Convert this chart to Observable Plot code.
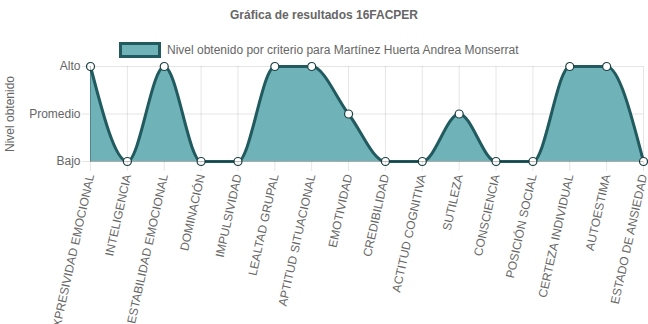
<!DOCTYPE html>
<html><head><meta charset="utf-8">
<script src="https://cdn.jsdelivr.net/npm/d3@7"></script>
<script src="https://cdn.jsdelivr.net/npm/@observablehq/plot@0.6"></script>
<style>
body{margin:0;background:#fff;font-family:"Liberation Sans",Arial,sans-serif;}
#wrap{position:relative;width:648px;height:324px;overflow:hidden;}
#title{position:absolute;left:0;width:648px;top:8px;text-align:center;font-weight:bold;font-size:12px;color:#666;}
#legend{position:absolute;left:119px;top:42px;height:15px;display:flex;align-items:center;font-size:12px;color:#666;}
#legend .box{width:36px;height:10px;background:#6fb3b8;border:3px solid #215a5f;margin-right:6px;}
#chart{position:absolute;left:0;top:58px;}
</style></head>
<body><div id="wrap">
<div id="title">Gráfica de resultados 16FACPER</div>
<div id="legend"><div class="box"></div><span>Nivel obtenido por criterio para Martínez Huerta Andrea Monserrat</span></div>
<div id="chart"></div>
</div>
<script>
const categories = ["EXPRESIVIDAD EMOCIONAL","INTELIGENCIA","ESTABILIDAD EMOCIONAL","DOMINACIÓN","IMPULSIVIDAD","LEALTAD GRUPAL","APTITUD SITUACIONAL","EMOTIVIDAD","CREDIBILIDAD","ACTITUD COGNITIVA","SUTILEZA","CONSCIENCIA","POSICIÓN SOCIAL","CERTEZA INDIVIDUAL","AUTOESTIMA","ESTADO DE ANSIEDAD"];
const values = [3,1,3,1,1,3,3,2,1,1,2,1,1,3,3,1];
const levelTicks = [1,2,3];
const levelLabels = ["Bajo","Promedio","Alto"];
const data = categories.map((c,i)=>({c, v: values[i]}));

const chart = Plot.plot({
  width: 648, height: 266,
  marginLeft: 90, marginRight: 5, marginTop: 8, marginBottom: 163,
  style: {fontFamily: '"Liberation Sans",Arial,sans-serif', fontSize: "12px", color: "#666", overflow: "visible"},
  x: {type: "point", domain: categories, padding: 0, round: false, label: null},
  y: {domain: [1,3], label: null},
  marks: [
    Plot.gridX(categories, {stroke: "#000", strokeOpacity: 0.1, y1: 1, y2: 3}),
    Plot.gridY(levelTicks, {stroke: "#000", strokeOpacity: 0.1}),
    Plot.areaY(data, {x: "c", y1: 1, y2: "v", curve: "monotone-x", fill: "#6fb3b8"}),
    Plot.lineY(data, {x: "c", y: "v", curve: "monotone-x", stroke: "#215a5f", strokeWidth: 3}),
    Plot.dot(data, {x: "c", y: "v", r: 4, fill: "#fff", stroke: "#1a3f42", strokeWidth: 1.2}),
    Plot.axisY(levelTicks, {tickFormat: d => levelLabels[levelTicks.indexOf(d)], tickSize: 8, tickPadding: 2, stroke: "#000", strokeOpacity: 0.1, fill: "#666", fontSize: 12}),
    Plot.axisX(categories, {tickRotate: -77.5, tickSize: 10, tickPadding: 3, stroke: "#000", strokeOpacity: 0.1, fill: "#666", fontSize: 12}),
    Plot.ruleY([1], {stroke: "#000", strokeOpacity: 0.25}),
    Plot.ruleX([0], {x: () => categories[0], stroke: "#000", strokeOpacity: 0.25, y1: 1, y2: 3}),
    Plot.text(["Nivel obtenido"], {text: d => d, frameAnchor: "left", y: 2, dx: -80, rotate: -90, fill: "#666", fontSize: 12, textAnchor: "middle"})
  ]
});
document.getElementById("chart").appendChild(chart);
</script>
</body></html>
